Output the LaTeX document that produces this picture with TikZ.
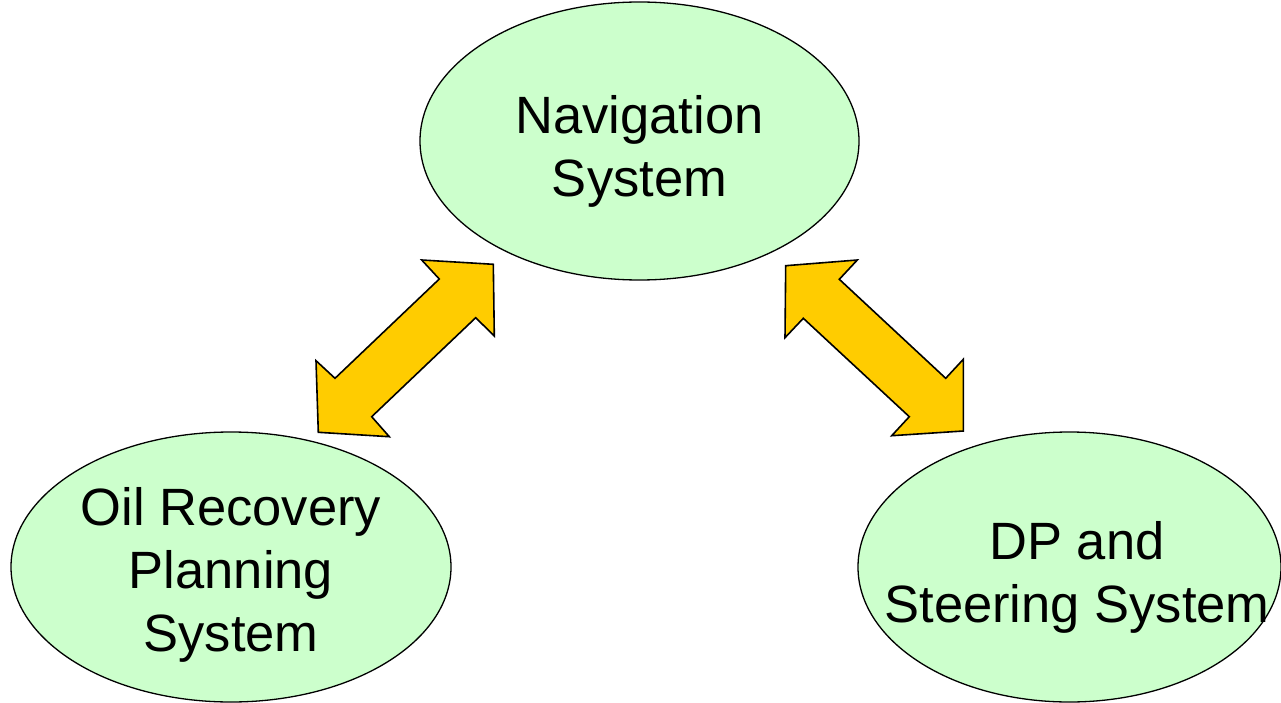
\documentclass[tikz,border=0pt]{standalone}
\usepackage{fontspec}
\setmainfont{Liberation Sans}
\usetikzlibrary{shapes.geometric}
\definecolor{ellfill}{HTML}{CCFFCC}
\definecolor{arrfill}{HTML}{FFCC00}
\tikzset{
  sysnode/.style={ellipse, draw=black, fill=ellfill, line width=1.3pt, inner sep=0pt},
  systext/.style={align=center, inner sep=0pt, font=\fontsize{52.5}{63}\selectfont},
  blockarrow/.style={draw=black, fill=arrfill, line width=1.6pt, line join=miter}
}
\begin{document}
\begin{tikzpicture}[x=1pt,y=-1pt]
\useasboundingbox (0,0) rectangle (1281,703);
\node[sysnode, minimum width=439pt, minimum height=278pt] (nav) at (639.5,141) {};
\node[systext] (navt) at (639.5,151) {Navigation\\System};
\node[sysnode, minimum width=440pt, minimum height=270pt] (oil) at (231,567) {};
\node[systext] (oilt) at (231,575) {Oil Recovery\\Planning\\System};
\node[sysnode, minimum width=423pt, minimum height=270pt] (dp) at (1069.5,567) {};
\node[systext] (dpt) at (1077,577) {DP and\\Steering System};
% left block arrow
\draw[blockarrow] (493.3,264.3) -- (421.7,260) -- (439.3,279) -- (335,378.3) -- (316,360.7)
  -- (318.3,432.3) -- (389.3,436.7) -- (371.7,416.7) -- (475.7,317.7) -- (494.3,336) -- cycle;
% right block arrow
\draw[blockarrow] (785.7,265.7) -- (857.3,260) -- (839.3,279.3) -- (945.7,378.3) -- (963.3,359.3)
  -- (963.3,431) -- (891.7,435.7) -- (909.3,416.7) -- (803.3,318.3) -- (785,337.7) -- cycle;
\end{tikzpicture}
\end{document}
